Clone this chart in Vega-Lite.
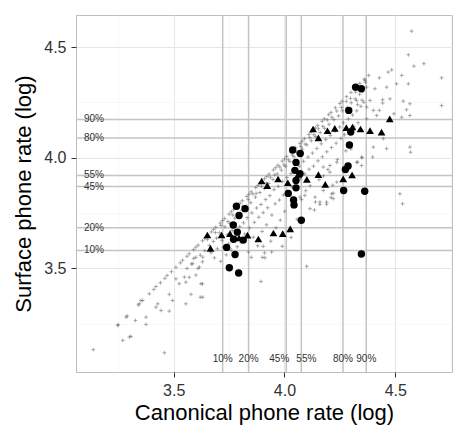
{
"$schema": "https://vega.github.io/schema/vega-lite/v6.json",
"width": 376, "height": 357,
"autosize": "none",
"padding": {"left": 76, "top": 15, "right": 4, "bottom": 59},
"background": "white",
"config": {
  "font": "Liberation Sans",
  "view": {"stroke": "#bdbdbd", "strokeWidth": 1},
  "axis": {"domain": false, "tickColor": "#333333", "tickSize": 5, "labelColor": "#333333", "labelFontSize": 16, "titleFontSize": 22, "titleFontWeight": "normal", "titleColor": "#000000", "labelFont": "Liberation Sans", "titleFont": "Liberation Sans"}
},
"datasets": {
  "crosses": [
{"x":3.25,"y":3.245},{"x":3.29,"y":3.285},{"x":3.34,"y":3.335},{"x":3.36,"y":3.355},{"x":3.39,"y":3.385},{"x":3.41,"y":3.405},{"x":3.42,"y":3.418},{"x":3.44,"y":3.435},{"x":3.46,"y":3.455},{"x":3.47,"y":3.468},{"x":3.49,"y":3.485},{"x":3.51,"y":3.505},{"x":3.53,"y":3.525},{"x":3.54,"y":3.537},{"x":3.56,"y":3.555},{"x":3.57,"y":3.566},{"x":3.59,"y":3.585},{"x":3.60,"y":3.596},{"x":3.61,"y":3.605},{"x":3.63,"y":3.625},{"x":3.64,"y":3.636},{"x":3.65,"y":3.645},{"x":3.67,"y":3.665},{"x":3.68,"y":3.676},{"x":3.69,"y":3.686},{"x":3.71,"y":3.705},{"x":3.72,"y":3.716},{"x":3.73,"y":3.725},{"x":3.75,"y":3.745},{"x":3.76,"y":3.756},{"x":3.77,"y":3.766},{"x":3.79,"y":3.785},{"x":3.80,"y":3.795},{"x":3.81,"y":3.806},{"x":3.83,"y":3.825},{"x":3.84,"y":3.835},{"x":3.85,"y":3.846},{"x":3.87,"y":3.865},{"x":3.88,"y":3.875},{"x":3.89,"y":3.886},{"x":3.91,"y":3.905},{"x":3.92,"y":3.915},{"x":3.93,"y":3.926},{"x":3.95,"y":3.945},{"x":3.96,"y":3.955},{"x":3.97,"y":3.966},{"x":3.99,"y":3.985},{"x":4.00,"y":3.995},{"x":4.01,"y":4.006},{"x":4.03,"y":4.025},{"x":4.04,"y":4.035},{"x":4.05,"y":4.046},{"x":4.07,"y":4.065},{"x":4.08,"y":4.075},{"x":4.09,"y":4.086},{"x":4.11,"y":4.105},{"x":4.12,"y":4.115},{"x":4.14,"y":4.135},{"x":4.15,"y":4.146},{"x":4.17,"y":4.165},{"x":4.18,"y":4.176},{"x":4.20,"y":4.195},{"x":4.21,"y":4.205},{"x":4.23,"y":4.226},{"x":4.25,"y":4.245},{"x":4.26,"y":4.255},{"x":4.28,"y":4.276},{"x":4.30,"y":4.295},{"x":4.32,"y":4.315},{"x":4.34,"y":4.336},{"x":4.36,"y":4.355},{"x":4.38,"y":4.372},
{"x":3.652,"y":3.631},{"x":3.688,"y":3.662},{"x":3.713,"y":3.694},{"x":3.744,"y":3.712},{"x":3.767,"y":3.741},{"x":3.791,"y":3.772},{"x":3.812,"y":3.781},{"x":3.836,"y":3.811},{"x":3.857,"y":3.836},{"x":3.872,"y":3.839},{"x":3.896,"y":3.871},{"x":3.917,"y":3.886},{"x":3.936,"y":3.912},{"x":3.955,"y":3.922},{"x":3.979,"y":3.958},{"x":3.997,"y":3.968},{"x":4.017,"y":3.991},{"x":4.036,"y":4.012},{"x":4.055,"y":4.024},{"x":4.074,"y":4.051},{"x":4.093,"y":4.062},{"x":4.114,"y":4.091},{"x":4.133,"y":4.104},{"x":4.153,"y":4.131},{"x":4.173,"y":4.142},{"x":4.193,"y":4.171},{"x":4.214,"y":4.183},{"x":4.236,"y":4.211},{"x":4.257,"y":4.227},{"x":4.279,"y":4.255},{"x":4.298,"y":4.268},{"x":4.321,"y":4.297},{"x":4.343,"y":4.312},{"x":4.366,"y":4.341},
{"x":3.661,"y":3.604},{"x":3.668,"y":3.571},{"x":3.679,"y":3.622},{"x":3.684,"y":3.548},{"x":3.693,"y":3.637},{"x":3.697,"y":3.589},{"x":3.706,"y":3.661},{"x":3.712,"y":3.532},{"x":3.718,"y":3.627},{"x":3.724,"y":3.596},{"x":3.731,"y":3.688},{"x":3.737,"y":3.561},{"x":3.742,"y":3.652},{"x":3.748,"y":3.611},{"x":3.753,"y":3.704},{"x":3.759,"y":3.583},{"x":3.764,"y":3.671},{"x":3.771,"y":3.632},{"x":3.776,"y":3.727},{"x":3.782,"y":3.648},{"x":3.787,"y":3.598},{"x":3.793,"y":3.742},{"x":3.798,"y":3.689},{"x":3.804,"y":3.617},{"x":3.809,"y":3.763},{"x":3.815,"y":3.706},{"x":3.821,"y":3.655},{"x":3.826,"y":3.781},{"x":3.831,"y":3.729},{"x":3.837,"y":3.574},{"x":3.842,"y":3.683},{"x":3.848,"y":3.797},{"x":3.853,"y":3.751},{"x":3.859,"y":3.641},{"x":3.864,"y":3.708},{"x":3.869,"y":3.822},{"x":3.874,"y":3.773},{"x":3.879,"y":3.602},{"x":3.884,"y":3.731},{"x":3.889,"y":3.843},{"x":3.894,"y":3.789},{"x":3.899,"y":3.667},{"x":3.904,"y":3.752},{"x":3.909,"y":3.861},{"x":3.915,"y":3.811},{"x":3.919,"y":3.697},{"x":3.924,"y":3.774},{"x":3.929,"y":3.884},{"x":3.934,"y":3.829},{"x":3.938,"y":3.623},{"x":3.943,"y":3.741},{"x":3.948,"y":3.902},{"x":3.953,"y":3.856},{"x":3.958,"y":3.792},{"x":3.962,"y":3.683},{"x":3.967,"y":3.927},{"x":3.972,"y":3.871},{"x":3.977,"y":3.809},{"x":3.981,"y":3.718},{"x":3.986,"y":3.944},{"x":3.991,"y":3.893},{"x":3.995,"y":3.832},{"x":4.001,"y":3.758},{"x":4.005,"y":3.962},{"x":4.011,"y":3.911},{"x":4.015,"y":3.848},{"x":4.019,"y":3.671},{"x":4.024,"y":3.983},{"x":4.029,"y":3.928},{"x":4.033,"y":3.869},{"x":4.038,"y":3.779},{"x":4.043,"y":4.004},{"x":4.048,"y":3.946},{"x":4.053,"y":3.889},{"x":4.057,"y":3.722},{"x":4.062,"y":4.021},{"x":4.067,"y":3.962},{"x":4.072,"y":3.905},{"x":4.077,"y":3.811},{"x":4.081,"y":4.039},{"x":4.086,"y":3.984},{"x":4.091,"y":3.927},{"x":4.096,"y":3.851},{"x":4.101,"y":4.058},{"x":4.106,"y":4.003},{"x":4.111,"y":3.948},{"x":4.116,"y":3.873},{"x":4.121,"y":4.077},{"x":4.126,"y":4.021},{"x":4.131,"y":3.962},{"x":4.135,"y":3.764},{"x":4.141,"y":4.096},{"x":4.146,"y":4.042},{"x":4.151,"y":3.986},{"x":4.156,"y":3.901},{"x":4.161,"y":4.114},{"x":4.166,"y":4.063},{"x":4.171,"y":4.004},{"x":4.176,"y":3.918},{"x":4.181,"y":4.133},{"x":4.186,"y":4.082},{"x":4.191,"y":4.027},{"x":4.196,"y":3.947},{"x":4.201,"y":4.151},{"x":4.207,"y":4.101},{"x":4.212,"y":4.046},{"x":4.218,"y":3.876},{"x":4.223,"y":4.172},{"x":4.228,"y":4.121},{"x":4.233,"y":4.066},{"x":4.239,"y":3.992},{"x":4.244,"y":4.189},{"x":4.249,"y":4.139},{"x":4.255,"y":4.087},{"x":4.261,"y":4.212},{"x":4.266,"y":4.158},{"x":4.271,"y":4.104},{"x":4.277,"y":4.031},{"x":4.283,"y":4.227},{"x":4.288,"y":4.176},{"x":4.294,"y":4.122},{"x":4.301,"y":4.248},{"x":4.307,"y":4.193},{"x":4.313,"y":4.141},{"x":4.319,"y":4.266},{"x":4.326,"y":4.212},{"x":4.332,"y":4.158},{"x":4.339,"y":4.287},{"x":4.345,"y":4.232},{"x":4.352,"y":4.301},{"x":4.358,"y":4.251},
{"x":3.56,"y":3.50},{"x":3.58,"y":3.52},{"x":3.60,"y":3.55},{"x":3.61,"y":3.50},{"x":3.62,"y":3.56},{"x":3.63,"y":3.53},{"x":3.64,"y":3.58},{"x":3.62,"y":3.37},{"x":3.63,"y":3.43},{"x":3.57,"y":3.46},{"x":3.60,"y":3.47},{"x":3.85,"y":3.55},{"x":3.91,"y":3.57},{"x":3.90,"y":3.55},{"x":4.10,"y":3.51},{"x":3.99,"y":3.60},{"x":4.03,"y":3.64},{"x":4.14,"y":3.80},{"x":4.16,"y":3.80},{"x":4.19,"y":3.79},{"x":4.21,"y":3.82},{"x":4.22,"y":3.84},{"x":4.35,"y":4.00},{"x":4.33,"y":3.98},{"x":4.30,"y":4.04},{"x":4.27,"y":3.94},{"x":4.35,"y":4.26},{"x":4.33,"y":4.24},
{"x":4.363,"y":4.35},{"x":4.371,"y":4.319},{"x":4.386,"y":4.259},{"x":4.371,"y":4.229},{"x":4.371,"y":4.176},{"x":4.401,"y":4.214},{"x":4.408,"y":4.312},{"x":4.416,"y":4.191},{"x":4.428,"y":4.361},{"x":4.428,"y":4.214},{"x":4.443,"y":4.262},{"x":4.443,"y":4.247},{"x":4.461,"y":4.319},{"x":4.468,"y":4.387},{"x":4.484,"y":4.397},{"x":4.476,"y":4.266},{"x":4.494,"y":4.199},{"x":4.506,"y":4.334},{"x":4.529,"y":4.372},{"x":4.529,"y":4.183},{"x":4.536,"y":4.256},{"x":4.551,"y":4.217},{"x":4.559,"y":4.465},{"x":4.559,"y":4.334},{"x":4.566,"y":4.244},{"x":4.566,"y":4.191},{"x":4.574,"y":4.572},{"x":4.584,"y":4.414},{"x":4.629,"y":4.425},{"x":4.709,"y":4.361},{"x":4.709,"y":4.236},{"x":4.401,"y":4.048},{"x":4.461,"y":4.041},{"x":4.398,"y":4.003},{"x":4.566,"y":4.048},{"x":4.569,"y":4.025},{"x":4.521,"y":3.837},{"x":4.533,"y":3.792},{"x":4.446,"y":4.086},{"x":4.348,"y":4.003},{"x":4.348,"y":3.965},{"x":4.326,"y":3.98},{"x":4.326,"y":4.259},
{"x":3.137,"y":3.133},{"x":3.458,"y":3.119},{"x":3.270,"y":3.175},{"x":3.307,"y":3.193},{"x":3.30,"y":3.19},{"x":3.247,"y":3.243},{"x":3.327,"y":3.265},{"x":3.375,"y":3.28},{"x":3.375,"y":3.247},{"x":3.285,"y":3.28},{"x":3.345,"y":3.34},{"x":3.352,"y":3.355},{"x":3.42,"y":3.325},{"x":3.443,"y":3.31},{"x":3.48,"y":3.307},{"x":3.495,"y":3.355},{"x":3.48,"y":3.383},{"x":3.428,"y":3.34},{"x":3.555,"y":3.34},{"x":3.578,"y":3.383},{"x":3.555,"y":3.438},{"x":3.51,"y":3.453},{"x":3.525,"y":3.431},{"x":3.548,"y":3.461},{"x":3.623,"y":3.431},{"x":3.631,"y":3.37},{"x":3.586,"y":3.521},{"x":3.616,"y":3.506},{"x":3.631,"y":3.551},{"x":3.59,"y":3.545},
{"x":3.894,"y":3.441},{"x":3.912,"y":3.548},{"x":3.942,"y":3.574},{"x":3.904,"y":3.6},
{"x":4.236,"y":3.98},{"x":4.205,"y":3.965},{"x":4.205,"y":3.935},{"x":4.175,"y":3.958},{"x":4.236,"y":3.89},{"x":4.175,"y":3.852},{"x":4.213,"y":3.837},{"x":4.22,"y":3.815},{"x":4.19,"y":3.8},{"x":4.16,"y":3.789},{"x":4.115,"y":3.77},{"x":4.092,"y":3.83},{"x":4.07,"y":3.822},{"x":4.138,"y":3.822}
  ],
  "circles": [
{"x":4.321,"y":4.319},{"x":4.347,"y":4.312},{"x":4.290,"y":4.214},{"x":4.299,"y":4.116},{"x":4.293,"y":4.058},{"x":4.287,"y":3.963},{"x":4.275,"y":3.947},{"x":4.267,"y":3.852},{"x":4.362,"y":3.849},{"x":4.347,"y":3.565},{"x":4.037,"y":4.035},{"x":4.071,"y":4.019},{"x":4.052,"y":3.979},{"x":4.047,"y":3.943},{"x":4.070,"y":3.928},{"x":4.052,"y":3.897},{"x":4.052,"y":3.864},{"x":4.017,"y":3.839},{"x":4.041,"y":3.809},{"x":4.043,"y":3.787},{"x":4.076,"y":3.718},{"x":3.783,"y":3.781},{"x":3.822,"y":3.770},{"x":3.795,"y":3.739},{"x":3.769,"y":3.696},{"x":3.787,"y":3.664},{"x":3.770,"y":3.632},{"x":3.814,"y":3.628},{"x":3.739,"y":3.595},{"x":3.777,"y":3.563},{"x":3.751,"y":3.503},{"x":3.793,"y":3.479}
  ],
  "triangles": [
{"x":4.475,"y":4.176},{"x":4.129,"y":4.130},{"x":4.194,"y":4.122},{"x":4.227,"y":4.133},{"x":4.279,"y":4.136},{"x":4.307,"y":4.139},{"x":4.343,"y":4.130},{"x":4.386,"y":4.123},{"x":4.438,"y":4.116},{"x":4.153,"y":4.090},{"x":3.897,"y":3.895},{"x":3.922,"y":3.874},{"x":3.971,"y":3.904},{"x":4.015,"y":3.887},{"x":4.062,"y":3.925},{"x":4.101,"y":3.902},{"x":4.153,"y":3.924},{"x":4.184,"y":3.880},{"x":4.265,"y":3.905},{"x":4.305,"y":3.922},{"x":3.652,"y":3.651},{"x":3.716,"y":3.651},{"x":3.754,"y":3.657},{"x":3.795,"y":3.638},{"x":3.833,"y":3.650},{"x":3.882,"y":3.633},{"x":3.950,"y":3.660},{"x":3.992,"y":3.657},{"x":4.026,"y":3.679},{"x":3.666,"y":3.591}
  ],
  "hlines": [
{"y":4.173,"label":"90%"},{"y":4.089,"label":"80%"},{"y":3.920,"label":"55%"},{"y":3.870,"label":"45%"},{"y":3.684,"label":"20%"},{"y":3.581,"label":"10%"}
  ],
  "vlines": [
{"x":3.721,"label":"10%"},{"x":3.838,"label":"20%"},{"x":4.008,"label":"45%"},{"x":4.076,"label":"55%"},{"x":4.264,"label":"80%"},{"x":4.369,"label":"90%"}
  ]
},
"layer": [
  {
    "data": {"name": "hlines"},
    "mark": {"type": "rule", "color": "#c4c4c4", "strokeWidth": 1.5},
    "encoding": {
      "y": {"field": "y", "type": "quantitative", "title": "Surface phone rate (log)",
        "scale": {"domain": [3.032, 4.645], "nice": false, "zero": false},
        "axis": {"values": [3.25, 3.5, 3.75, 4, 4.25, 4.5], "format": ".1f", "labelPadding": 5, "titlePadding": 8,
          "labelExpr": "abs(datum.value*2-round(datum.value*2))<0.01 ? datum.label : ''",
          "tickOpacity": {"condition": {"test": "abs(datum.value*2-round(datum.value*2))<0.01", "value": 1}, "value": 0},
          "gridColor": {"condition": {"test": "abs(datum.value*2-round(datum.value*2))<0.01", "value": "#e6e6e6"}, "value": "#f3f3f3"},
          "gridWidth": {"condition": {"test": "abs(datum.value*2-round(datum.value*2))<0.01", "value": 1}, "value": 0.6}}}
    }
  },
  {
    "data": {"name": "vlines"},
    "mark": {"type": "rule", "color": "#c4c4c4", "strokeWidth": 1.5},
    "encoding": {
      "x": {"field": "x", "type": "quantitative", "title": "Canonical phone rate (log)",
        "scale": {"domain": [3.059, 4.756], "nice": false, "zero": false},
        "axis": {"values": [3.25, 3.5, 3.75, 4, 4.25, 4.5, 4.75], "format": ".1f", "labelPadding": 5, "titlePadding": 4,
          "labelExpr": "abs(datum.value*2-round(datum.value*2))<0.01 ? datum.label : ''",
          "tickOpacity": {"condition": {"test": "abs(datum.value*2-round(datum.value*2))<0.01", "value": 1}, "value": 0},
          "gridColor": {"condition": {"test": "abs(datum.value*2-round(datum.value*2))<0.01", "value": "#e6e6e6"}, "value": "#f3f3f3"},
          "gridWidth": {"condition": {"test": "abs(datum.value*2-round(datum.value*2))<0.01", "value": 1}, "value": 0.6}}}
    }
  },
  {
    "data": {"name": "crosses"},
    "mark": {"type": "point", "shape": "M-1,0L1,0M0,-1L0,1", "filled": false, "size": 14, "strokeWidth": 0.8, "color": "#4d4d4d", "opacity": 0.6},
    "encoding": {
      "x": {"field": "x", "type": "quantitative", "title": "Canonical phone rate (log)"},
      "y": {"field": "y", "type": "quantitative", "title": "Surface phone rate (log)"}
    }
  },
  {
    "data": {"name": "circles"},
    "mark": {"type": "point", "shape": "circle", "filled": true, "size": 55, "color": "#000000", "opacity": 1},
    "encoding": {
      "x": {"field": "x", "type": "quantitative", "title": "Canonical phone rate (log)"},
      "y": {"field": "y", "type": "quantitative", "title": "Surface phone rate (log)"}
    }
  },
  {
    "data": {"name": "triangles"},
    "mark": {"type": "point", "shape": "triangle-up", "filled": true, "size": 60, "color": "#000000", "opacity": 1},
    "encoding": {
      "x": {"field": "x", "type": "quantitative", "title": "Canonical phone rate (log)"},
      "y": {"field": "y", "type": "quantitative", "title": "Surface phone rate (log)"}
    }
  },
  {
    "data": {"name": "hlines"},
    "mark": {"type": "text", "align": "left", "baseline": "middle", "fontSize": 10, "color": "#333333", "font": "Liberation Sans"},
    "encoding": {
      "x": {"datum": 3.095, "type": "quantitative"},
      "y": {"field": "y", "type": "quantitative", "title": "Surface phone rate (log)"},
      "text": {"field": "label"}
    }
  },
  {
    "data": {"name": "vlines"},
    "transform": [{"filter": "datum.label != '45%' && datum.label != '55%'"}],
    "mark": {"type": "text", "align": "center", "baseline": "middle", "fontSize": 10, "color": "#333333", "font": "Liberation Sans"},
    "encoding": {
      "x": {"field": "x", "type": "quantitative", "title": "Canonical phone rate (log)"},
      "y": {"datum": 3.092, "type": "quantitative"},
      "text": {"field": "label"}
    }
  },
  {
    "data": {"name": "vlines"},
    "transform": [{"filter": "datum.label == '45%'"}],
    "mark": {"type": "text", "align": "center", "baseline": "middle", "fontSize": 10, "color": "#333333", "font": "Liberation Sans", "dx": -7},
    "encoding": {
      "x": {"field": "x", "type": "quantitative", "title": "Canonical phone rate (log)"},
      "y": {"datum": 3.092, "type": "quantitative"},
      "text": {"field": "label"}
    }
  },
  {
    "data": {"name": "vlines"},
    "transform": [{"filter": "datum.label == '55%'"}],
    "mark": {"type": "text", "align": "center", "baseline": "middle", "fontSize": 10, "color": "#333333", "font": "Liberation Sans", "dx": 5},
    "encoding": {
      "x": {"field": "x", "type": "quantitative", "title": "Canonical phone rate (log)"},
      "y": {"datum": 3.092, "type": "quantitative"},
      "text": {"field": "label"}
    }
  }
]
}
